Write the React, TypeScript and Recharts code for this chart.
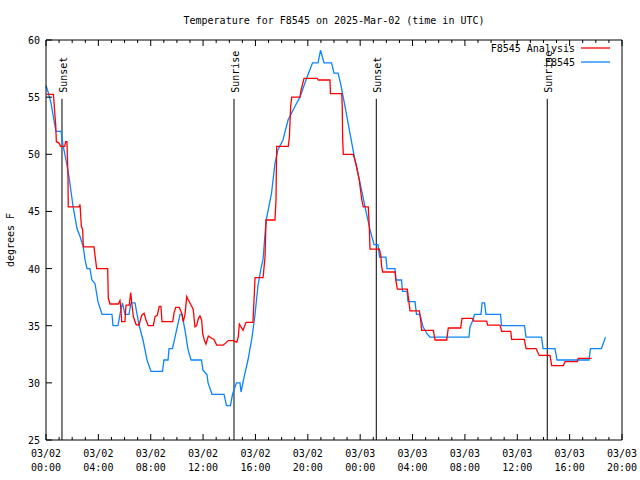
import { LineChart, Line, XAxis, YAxis, ReferenceLine } from "recharts"

// hours since 03/02 00:00 UTC, degrees F
const obsHours = [
  0, 0.15, 0.38, 0.53, 0.76, 1.15, 1.3, 1.53, 1.76, 2.06, 2.37, 2.6, 2.83, 2.98, 3.13, 3.36, 3.51, 3.74, 3.97, 4.28,
  5.04, 5.12, 5.5, 5.65, 5.84, 6.03, 6.34, 6.49, 6.8, 7.1, 7.41, 7.72, 8.02, 8.9, 9.01, 9.32, 9.4, 9.66, 9.97, 10.24,
  10.39, 10.62, 10.85, 11.08, 11.88, 11.99, 12.3, 12.38, 12.68, 13.6, 13.79, 14.09, 14.25, 14.55, 14.82, 14.9, 15.13,
  15.43, 15.74, 15.97, 16.19, 16.42, 16.58, 16.81, 17.23, 17.49, 17.72, 18.1, 18.49, 19.02, 19.4, 19.86, 20.36, 20.78,
  20.97, 21.24, 21.81, 22.0, 22.31, 22.5, 22.84, 23.22, 23.6, 23.99, 24.37, 24.75, 25.06, 25.36, 25.48, 25.97, 26.05,
  26.66, 26.74, 27.16, 27.23, 27.58, 27.65, 28.19, 28.3, 28.57, 28.8, 29.1, 29.33, 32.31, 32.39, 32.62, 32.73, 33.23,
  33.31, 33.5, 33.61, 34.72, 34.8, 36.55, 36.67, 37.85, 37.97, 38.88, 39.04, 41.48, 41.59, 42.43, 42.74,
]
const obsTemps = [
  56, 55.5, 54.5, 53.5, 52, 52, 50.8, 49.5, 48, 45.5, 43.5, 42.8, 42, 40.8, 40, 40, 39, 38.7, 37.1, 36,
  36, 35, 35, 36, 37, 36, 36, 37, 37, 35.1, 33.75, 32, 31, 31, 32, 32, 33, 33, 34.6, 36,
  36, 34.6, 32.9, 32, 32, 31.1, 30.7, 30, 29, 29, 28, 28, 29, 30, 30, 29.2, 30.5,
  32, 34, 36, 38.5, 40, 40.8, 44.2, 46.6, 49.2, 50.4, 51.25, 53, 54.2, 55, 56.5, 58, 58,
  59.1, 58, 58, 57.1, 57.1, 56.2, 54.2, 51.85, 49.5, 47.5, 45.4, 43.4, 42.1, 42.1, 41, 41, 40,
  40, 39, 39, 38, 38, 37.1, 37.1, 36, 36, 34.9, 34.3, 34, 34, 34.9, 35.5, 36, 36,
  37, 37, 36, 36, 35, 35, 34, 34, 33, 33, 32, 32, 33, 33, 34,
]

const anaHours = [
  0.05, 0.56, 0.61, 0.69, 0.74, 0.79, 0.99, 1.12, 1.43, 1.5, 1.6, 1.68, 1.7, 2.52, 2.6, 2.7, 2.8, 2.85, 3.67, 3.74,
  3.87, 4.71, 4.76, 4.89, 5.52, 5.65, 5.73, 5.78, 6.03, 6.11, 6.36, 6.47, 6.55, 6.67, 6.88, 7.1, 7.31, 7.49, 7.64, 7.81,
  8.2, 8.33, 8.5, 8.65, 8.78, 8.86, 9.68, 9.78, 9.91, 10.18, 10.37, 10.49, 10.62, 10.75, 10.87, 11.13, 11.25, 11.38,
  11.51, 11.63, 11.76, 11.89, 11.97, 12.09, 12.22, 12.4, 12.66, 12.83, 13.04, 13.54, 13.93, 14.31, 14.57, 14.69, 14.77,
  15.05, 15.28, 15.81, 15.97, 16.58, 16.73, 16.81, 17.49, 17.57, 17.62, 18.51, 18.59, 18.69, 18.77, 19.4, 19.48, 19.71,
  20.72, 20.8, 21.69, 21.73, 22.59, 22.63, 22.66, 22.71, 23.47, 23.6, 23.73, 23.93, 24.12, 24.24, 24.62, 24.7, 24.75,
  25.46, 25.57, 25.64, 25.72, 26.66, 26.74, 26.84, 27.6, 27.68, 27.81, 28.52, 28.62, 28.7, 29.59, 29.72, 30.61, 30.73,
  31.68, 31.78, 32.56, 32.69, 33.66, 33.74, 34.68, 34.81, 35.5, 35.57, 36.54, 36.67, 37.43, 37.68, 38.5, 38.63, 39.52,
  39.65, 40.59, 40.66, 41.68,
]
const anaTemps = [
  55.25, 55.25, 54.6, 53.3, 52.6, 51.1, 51, 50.7, 50.7, 51.1, 51.1, 48, 45.4, 45.4, 45.6, 43.7, 43.4, 41.9, 41.9, 41.2,
  40, 40, 37.4, 36.9, 36.9, 37.2, 36.4, 35.35, 35.35, 36.8, 36.8, 37.9, 37, 35.8, 35.1, 35.05, 35.9, 36.1, 35.5, 35,
  35, 35.8, 35.9, 36.7, 36.7, 35.35, 35.35, 36.1, 36.6, 36.6, 36.1, 35.35, 36, 37.55, 37.25, 36.7, 36.4, 34.9,
  35, 35.6, 35.85, 35.5, 34.3, 33.75, 33.4, 34.1, 33.9, 33.8, 33.3, 33.3, 33.7, 33.7, 33.55, 34.05, 35.15,
  34.6, 35.3, 35.3, 39.2, 39.2, 41, 44.25, 44.25, 46, 50.7, 50.7, 51.5, 54.2, 55, 55, 55.6, 56.65,
  56.65, 56.5, 56.5, 55.3, 55.3, 54.2, 51.4, 50, 50, 49.5, 48.9, 47.75, 46, 45.4, 45.4, 43.5, 41.7,
  41.7, 41.2, 40.15, 39.7, 39.7, 38.85, 38.2, 38.2, 37.5, 36.3, 36.3, 35.5, 34.6, 34.6, 33.75, 33.75, 34.8,
  34.8, 35.65, 35.65, 35.4, 35.4, 35.05, 35.05, 34.5, 34.5, 33.8, 33.8, 33, 33, 32.4, 32.4, 31.5, 31.5,
  31.85, 31.85, 32.15, 32.15,
]

const sunEvents = ["Sunset", "Sunrise", "Sunset", "Sunrise"]
const sunHours = [1.22, 14.36, 25.23, 38.29]

const hourTicks = Array.from({ length: 45 }, (_, i) => i)
const majorHours = [0, 4, 8, 12, 16, 20, 24, 28, 32, 36, 40, 44]
const majorDates = ["03/02", "03/02", "03/02", "03/02", "03/02", "03/02", "03/03", "03/03", "03/03", "03/03", "03/03", "03/03"]
const majorTimes = ["00:00", "04:00", "08:00", "12:00", "16:00", "20:00", "00:00", "04:00", "08:00", "12:00", "16:00", "20:00"]
const tempTicks = [25, 30, 35, 40, 45, 50, 55, 60]

const obsData = obsHours.map((h, i) => ({ h, v: obsTemps[i] }))
const anaData = anaHours.map((h, i) => ({ h, v: anaTemps[i] }))

const FONT = "'DejaVu Sans Mono', monospace"
const RED = "#ff0000"
const BLUE = "#0a84ff"

const XTick = ({ x, y, payload, side }: any) => {
  const h = payload.value
  const idx = majorHours.indexOf(h)
  const len = idx >= 0 ? 6 : 3
  const dir = side === "top" ? 1 : -1
  return (
    <g>
      <line x1={x} y1={y} x2={x} y2={y + dir * len} stroke="#000" />
      {side !== "top" && idx >= 0 && (
        <text x={x} y={y + 17} textAnchor="middle" fontFamily={FONT} fontSize={10} fill="#000">
          <tspan x={x}>{majorDates[idx]}</tspan>
          <tspan x={x} dy={14}>{majorTimes[idx]}</tspan>
        </text>
      )}
    </g>
  )
}

const YTick = ({ x, y, payload, side }: any) => {
  const dir = side === "right" ? -1 : 1
  return (
    <g>
      <line x1={x} y1={y} x2={x + dir * 6} y2={y} stroke="#000" />
      {side !== "right" && (
        <text x={x - 6} y={y + 4} textAnchor="end" fontFamily={FONT} fontSize={10} fill="#000">
          {payload.value}
        </text>
      )}
    </g>
  )
}

const SunLabel = ({ viewBox, text }: any) => (
  <text
    transform={`translate(${viewBox.x + 5}, ${viewBox.y - 6}) rotate(-90)`}
    textAnchor="start"
    fontFamily={FONT}
    fontSize={10}
    fill="#000"
  >
    {text}
  </text>
)

export default function App() {
  return (
    <div style={{ position: "absolute", left: 0, top: 0, width: 640, height: 480, background: "#fff" }}>
      <LineChart width={640} height={480} data={obsData} margin={{ top: 20, right: 8, bottom: 0, left: 6 }}>
        <XAxis
          xAxisId="bottom"
          dataKey="h"
          type="number"
          domain={[0, 44]}
          ticks={hourTicks}
          interval={0}
          height={40}
          tickSize={0}
          tickMargin={0}
          stroke="#000"
          tick={<XTick side="bottom" />}
        />
        <XAxis
          xAxisId="top"
          orientation="top"
          dataKey="h"
          type="number"
          domain={[0, 44]}
          ticks={hourTicks}
          interval={0}
          height={20}
          tickSize={0}
          tickMargin={0}
          stroke="#000"
          tick={<XTick side="top" />}
        />
        <YAxis
          yAxisId="left"
          type="number"
          domain={[25, 60]}
          ticks={tempTicks}
          interval={0}
          width={40}
          tickSize={0}
          tickMargin={0}
          stroke="#000"
          tick={<YTick side="left" />}
        />
        <YAxis
          yAxisId="right"
          orientation="right"
          type="number"
          domain={[25, 60]}
          ticks={tempTicks}
          interval={0}
          width={10}
          tickSize={0}
          tickMargin={0}
          stroke="#000"
          tick={<YTick side="right" />}
        />
        {sunHours.map((h, i) => (
          <ReferenceLine
            key={i}
            xAxisId="bottom"
            yAxisId="left"
            segment={[{ x: h, y: 54.85 }, { x: h, y: 25 }]}
            stroke="#000"
            label={<SunLabel text={sunEvents[i]} />}
          />
        ))}
        <Line
          xAxisId="bottom"
          yAxisId="left"
          data={obsData}
          dataKey="v"
          type="linear"
          stroke={BLUE}
          strokeWidth={1.3}
          dot={false}
          isAnimationActive={false}
        />
        <Line
          xAxisId="bottom"
          yAxisId="left"
          data={anaData}
          dataKey="v"
          type="linear"
          stroke={RED}
          strokeWidth={1.3}
          dot={false}
          isAnimationActive={false}
        />
      </LineChart>
      <svg width={640} height={480} style={{ position: "absolute", left: 0, top: 0, pointerEvents: "none" }}>
        <text x={334} y={24} textAnchor="middle" fontFamily={FONT} fontSize={10} fill="#000">
          Temperature for F8545 on 2025-Mar-02 (time in UTC)
        </text>
        <text transform="translate(14, 240) rotate(-90)" textAnchor="middle" fontFamily={FONT} fontSize={10} fill="#000">
          degrees F
        </text>
        <text x={575} y={52} textAnchor="end" fontFamily={FONT} fontSize={10} fill="#000">F8545 Analysis</text>
        <line x1={581} y1={48} x2={610} y2={48} stroke={RED} strokeWidth={1.3} />
        <text x={575} y={66} textAnchor="end" fontFamily={FONT} fontSize={10} fill="#000">F8545</text>
        <line x1={581} y1={62} x2={610} y2={62} stroke={BLUE} strokeWidth={1.3} />
      </svg>
    </div>
  )
}
